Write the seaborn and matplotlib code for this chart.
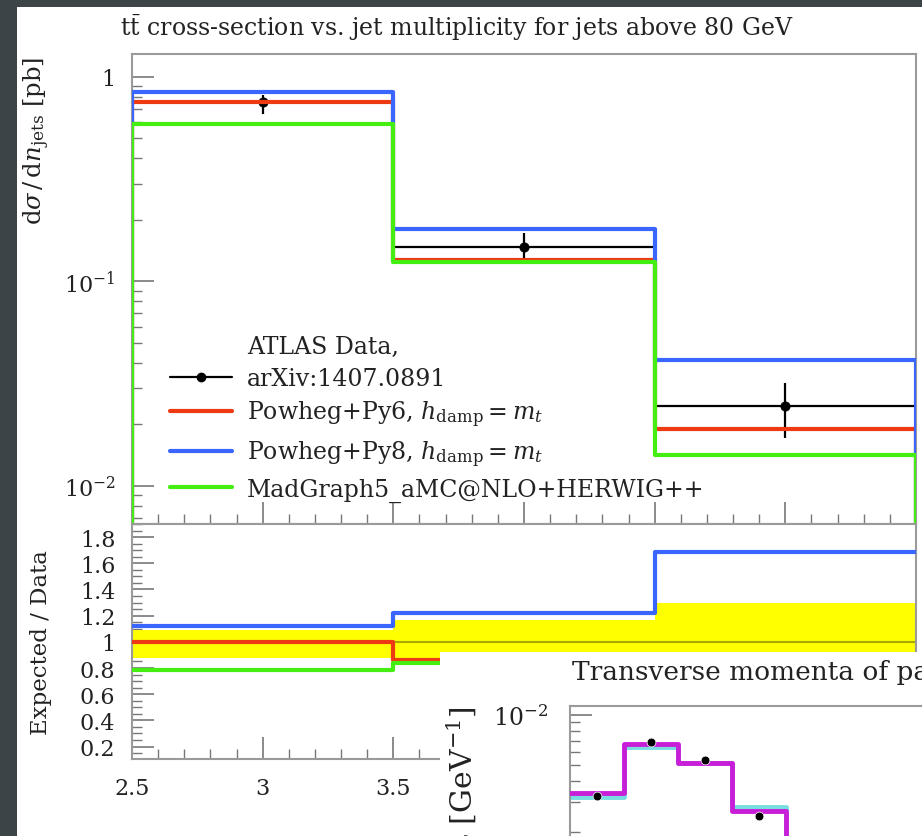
import numpy as np
import pandas as pd
import matplotlib
matplotlib.use("Agg")
import matplotlib.pyplot as plt
import seaborn as sns
from matplotlib.patches import Rectangle
from matplotlib.lines import Line2D
from matplotlib.ticker import MultipleLocator, FixedLocator, FuncFormatter, LogLocator, NullFormatter

# ---------------- data ----------------
bin_edges = [2.5, 3.5, 4.5, 5.5]
bin_centres = [3.0, 4.0, 5.0]
data_y = [0.75, 0.148, 0.0245]
data_err_up = [0.070, 0.025, 0.0073]
data_err_dn = [0.095, 0.022, 0.0073]
powheg_py6 = [0.75, 0.127, 0.0189]
powheg_py8 = [0.84, 0.181, 0.0413]
madgraph = [0.59, 0.1245, 0.0141]

labels = ["Powheg+Py6, $h_{\\mathrm{damp}} = m_t$",
          "Powheg+Py8, $h_{\\mathrm{damp}} = m_t$",
          "MadGraph5_aMC@NLO+HERWIG++"]
colors = ["#ee3a12", "#3a66ff", "#44ee11"]

x_ticks = [2.5, 3, 3.5, 4, 4.5, 5]
x_ticklabels = ["2.5", "3", "3.5", "4", "4.5", "5"]
ratio_ticks = [0.2, 0.4, 0.6, 0.8, 1.0, 1.2, 1.4, 1.6, 1.8]

# inset (second slide chart, partly visible)
inset_edges = [0, 50, 100, 150, 200, 250]
inset_mc1 = [3.40e-3, 6.68e-3, 5.14e-3, 2.66e-3, 1.2e-3]
inset_mc2 = [3.22e-3, 6.45e-3, 5.14e-3, 2.82e-3, 1.25e-3]
inset_data_x = [25, 75, 125, 175]
inset_data_y = [3.28e-3, 6.89e-3, 5.38e-3, 2.48e-3]

# ---------------- style ----------------
sns.set_theme(style="white")
plt.rcParams["font.family"] = ["DejaVu Serif"]
plt.rcParams["mathtext.fontset"] = "dejavuserif"

W, H = 922, 837
TXT = "#222222"
fig = plt.figure(figsize=(W / 100, H / 100), dpi=100, facecolor="#3c4448")


def fbox(x0, y0, x1, y1):
    return [x0 / W, 1 - y1 / H, (x1 - x0) / W, (y1 - y0) / H]


# white page of the slide
fig.patches.append(Rectangle((17 / W, 0), 1, 1 - 8 / H, transform=fig.transFigure,
                             facecolor="white", edgecolor="none", zorder=-10))

ax = fig.add_axes(fbox(132, 55, 916, 525))
rax = fig.add_axes(fbox(132, 525, 916, 760))
for a in (ax, rax):
    a.set_facecolor("white")
    for s in a.spines.values():
        s.set_color("#9a9a9a")
        s.set_linewidth(1.5)

ax.set_yscale("log")
ylo, yhi = 10 ** -2.186, 10 ** 0.112
floor = ylo / 10


def steps(edges, vals, base=None):
    xs = list(edges)
    ys = list(vals) + [vals[-1]]
    if base is not None:
        xs = [edges[0]] + xs + [edges[-1]]
        ys = [base] + ys + [base]
    return pd.DataFrame({"x": xs, "y": ys})


# data: horizontal bins + error bars
ax.errorbar(bin_centres, data_y, xerr=0.5, yerr=[data_err_dn, data_err_up],
            fmt="none", ecolor="black", elinewidth=1.6, capsize=0, zorder=2)
sns.scatterplot(x=bin_centres, y=data_y, ax=ax, color="black", s=45,
                edgecolor="black", zorder=3)

for vals, c in zip([powheg_py6, powheg_py8, madgraph], colors):
    df = steps(bin_edges, vals, floor)
    sns.lineplot(data=df, x="x", y="y", ax=ax, estimator=None, sort=False,
                 drawstyle="steps-post", color=c, lw=3.0, zorder=4)

ax.set_xlim(2.5, 5.5)
ax.set_ylim(ylo, yhi)
ax.set_xlabel("")
ax.set_ylabel("")
ax.yaxis.set_major_locator(FixedLocator([0.01, 0.1, 1]))
ax.yaxis.set_major_formatter(FuncFormatter(
    lambda v, p: "1" if abs(v - 1) < 1e-9 else "$10^{%d}$" % round(np.log10(v))))
ax.yaxis.set_minor_locator(LogLocator(base=10, subs=np.arange(2, 10)))
ax.yaxis.set_minor_formatter(NullFormatter())
ax.xaxis.set_major_locator(MultipleLocator(0.5))
ax.xaxis.set_minor_locator(MultipleLocator(0.1))
ax.tick_params(axis="x", which="both", labelbottom=False)

# ratio panel
data_arr = np.array(data_y)
band_up = list(1 + np.array(data_err_up) / data_arr)
band_dn = list(1 - np.array(data_err_dn) / data_arr)
rax.fill_between(bin_edges, band_dn + [band_dn[-1]], band_up + [band_up[-1]],
                 step="post", color="#ffff00", lw=0, zorder=1)
sns.lineplot(data=steps(bin_edges, list(data_arr / data_arr)), x="x", y="y", ax=rax,
             estimator=None, sort=False, drawstyle="steps-post", color="#a8a800",
             lw=1.5, zorder=2)
for vals, c in zip([powheg_py6, powheg_py8, madgraph], colors):
    r = list(np.array(vals) / data_arr)
    sns.lineplot(data=steps(bin_edges, r), x="x", y="y", ax=rax, estimator=None,
                 sort=False, drawstyle="steps-post", color=c, lw=3.0, zorder=4)
rax.set_xlim(2.5, 5.5)
rax.set_ylim(0.105, 1.9)
rax.set_xlabel("")
rax.set_ylabel("")
rax.xaxis.set_major_locator(FixedLocator(x_ticks))
rax.set_xticklabels(x_ticklabels)
rax.xaxis.set_minor_locator(MultipleLocator(0.1))
rax.yaxis.set_major_locator(FixedLocator(ratio_ticks))
rax.set_yticklabels(["%g" % t for t in ratio_ticks])
rax.yaxis.set_minor_locator(MultipleLocator(0.05))

for a in (ax, rax):
    a.tick_params(which="major", direction="in", length=16, width=1.2, color="#777777",
                  labelsize=16, labelcolor=TXT, pad=12, top=False, right=False,
                  left=True, bottom=True)
    a.tick_params(which="minor", direction="in", length=7, width=1.0, color="#777777",
                  top=False, right=False, left=True, bottom=True)
rax.tick_params(axis="x", which="major", pad=13)

# legend
handles = [Line2D([], [], linestyle="none"),
           Line2D([], [], color="black", lw=1.6, marker="o", ms=6),
           Line2D([], [], color=colors[0], lw=3),
           Line2D([], [], color=colors[1], lw=3),
           Line2D([], [], color=colors[2], lw=3)]
leg_labels = ["ATLAS Data,", "arXiv:1407.0891"] + labels
ax.legend(handles, leg_labels, loc="upper left", bbox_to_anchor=(0.048, 0.402),
          frameon=False, fontsize=17, handlelength=2.65, handletextpad=0.62,
          labelspacing=0.38, borderaxespad=0, borderpad=0, labelcolor=TXT)

# titles / axis labels
fig.text(120 / W, 1 - 28 / H, "$\\mathrm{t\\bar{t}}$ cross-section vs. jet multiplicity for jets above 80 GeV",
         ha="left", va="center", fontsize=17, color=TXT)
fig.text(37 / W, 1 - 57 / H, "$\\mathrm{d}\\sigma\\,/\\,\\mathrm{d}n_{\\mathrm{jets}}$ [pb]",
         rotation=90, ha="center", va="top", fontsize=17.5, color=TXT)
fig.text(41 / W, 1 - 643 / H, "Expected / Data", rotation=90, ha="center", va="center",
         fontsize=16.5, color=TXT)

# ---------------- inset: next slide chart ----------------
fig.patches.append(Rectangle((440 / W, 0), 1, 1 - 653 / H, transform=fig.transFigure,
                             facecolor="white", edgecolor="none", zorder=2))
iax = fig.add_axes(fbox(570, 707, 1110, 1010))
iax.set_zorder(3)
iax.set_facecolor("white")
for s in iax.spines.values():
    s.set_color("#9a9a9a")
    s.set_linewidth(1.5)
iax.set_yscale("log")
sns.lineplot(data=steps(inset_edges, inset_mc2), x="x", y="y", ax=iax, estimator=None,
             sort=False, drawstyle="steps-post", color="#77dde0", lw=3.5, zorder=2)
sns.lineplot(data=steps(inset_edges, inset_mc1), x="x", y="y", ax=iax, estimator=None,
             sort=False, drawstyle="steps-post", color="#c81ed8", lw=3.5, zorder=3)
sns.scatterplot(x=inset_data_x, y=inset_data_y, ax=iax, color="black", s=40, zorder=4)
iax.set_xlim(0, 500)
iax.set_ylim(10 ** (-2 - 294 / 167), 10 ** (-2 + 8.7 / 167))
iax.set_xlabel("")
iax.set_ylabel("")
iax.yaxis.set_major_locator(FixedLocator([1e-3, 1e-2]))
iax.yaxis.set_major_formatter(FuncFormatter(lambda v, p: "$10^{%d}$" % round(np.log10(v))))
iax.yaxis.set_minor_locator(LogLocator(base=10, subs=np.arange(2, 10)))
iax.yaxis.set_minor_formatter(NullFormatter())
iax.tick_params(which="major", direction="in", length=16, width=1.2, color="#777777",
                labelsize=17, labelcolor=TXT, pad=16, left=True, bottom=True)
iax.tick_params(which="minor", direction="in", length=7, width=1.0, color="#777777", left=True)
iax.tick_params(axis="x", labelbottom=False)
fig.text(572 / W, 1 - 673 / H, "Transverse momenta of partonic top quarks",
         ha="left", va="center", fontsize=19, color=TXT, zorder=5)
fig.text(464 / W, 1 - 706 / H,
         "$1/\\sigma\\ \\mathrm{d}\\sigma/\\mathrm{d}p_{\\mathrm{T}}^{t}$ [GeV$^{-1}$]",
         rotation=90, ha="center", va="top", fontsize=21.5, color=TXT, zorder=5)

fig.savefig("out.png", dpi=100, facecolor=fig.get_facecolor())
